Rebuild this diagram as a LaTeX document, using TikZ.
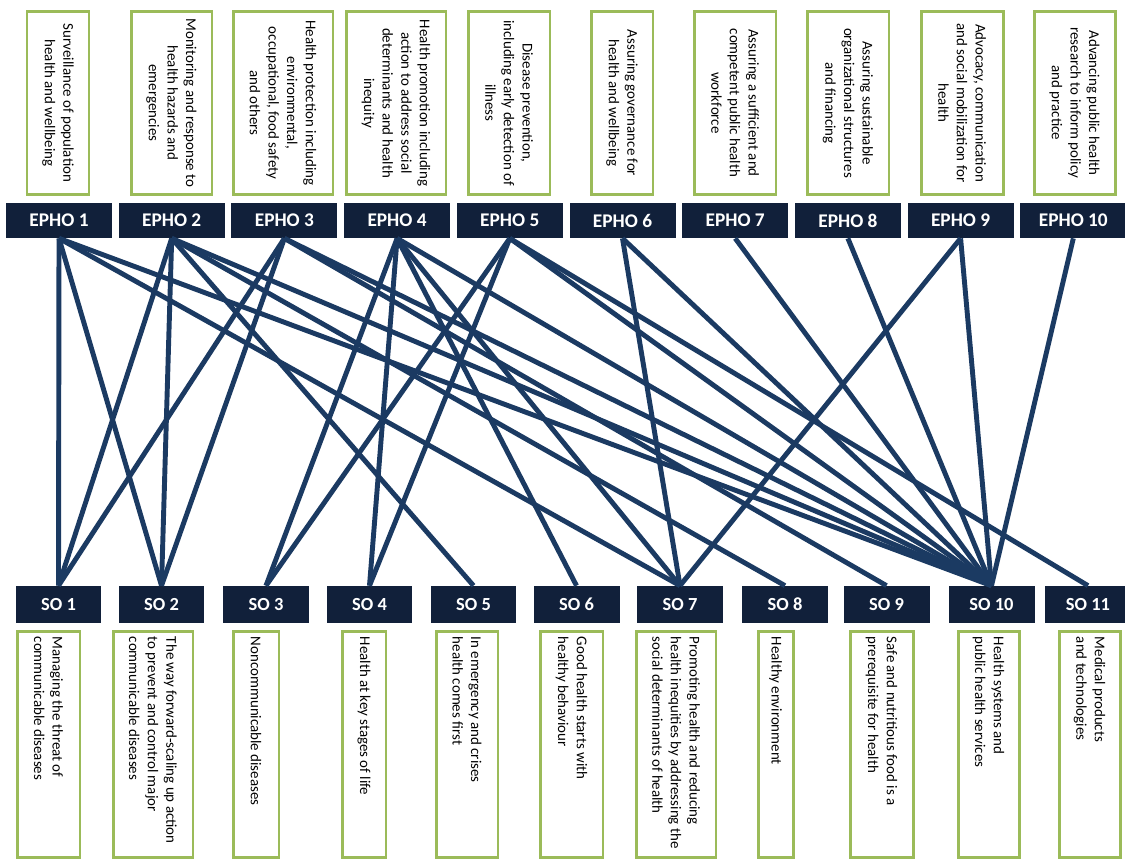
\documentclass[tikz,border=0pt]{standalone}
\usepackage{fontspec}
\setmainfont{Carlito}
\usetikzlibrary{positioning}
\definecolor{boxnavy}{HTML}{11203A}
\definecolor{linknavy}{HTML}{1B3A62}
\definecolor{leafgreen}{HTML}{9BBB59}
\tikzset{font=\fontsize{8.5}{10.6}\selectfont}
\tikzset{
  aimbox/.style={draw=leafgreen, line width=1.7pt, fill=white, rotate=-90, align=center, inner sep=0pt, minimum width=3.68cm},
  ephobox/.style={fill=boxnavy, text=white, minimum width=2.12cm, minimum height=0.7cm, inner sep=0pt, font=\fontsize{11}{13}\selectfont\bfseries},
  sobox/.style={fill=boxnavy, text=white, minimum width=1.72cm, minimum height=0.74cm, inner sep=0pt, font=\fontsize{10.5}{12}\selectfont\bfseries},
  goalbox/.style={draw=leafgreen, line width=1.7pt, fill=white, minimum height=4.54cm, inner sep=0pt},
  goaltext/.style={rotate=-90, anchor=west, align=left, inner sep=0pt},
  link/.style={draw=linknavy, line width=2.8pt},
}

\begin{document}
\begin{tikzpicture}[x=0.02cm, y=-0.02cm]
  \useasboundingbox (0,0) rectangle (1125,859);

  % operations (top)
  \node[aimbox, minimum height=1.24cm] (t1) at (58,103) {Surveillance of population\\health and wellbeing};
  \node[aimbox, minimum height=1.62cm] (t2) at (171.5,103) {Monitoring and response to\\health hazards and\\emergencies};
  \node[aimbox, minimum height=2.0cm] (t3) at (283,103) {Health protection including\\environmental,\\occupational, food safety\\and others};
  \node[aimbox, minimum height=2.0cm] (t4) at (396,103) {Health promotion including\\action to address social\\determinants and health\\inequity};
  \node[aimbox, minimum height=1.64cm] (t5) at (509,103) {Disease prevention,\\including early detection of\\illness};
  \node[aimbox, minimum height=1.24cm] (t6) at (622,103) {Assuring governance for\\health and wellbeing};
  \node[aimbox, minimum height=1.64cm] (t7) at (735,103) {Assuring a sufficient and\\competent public health\\workforce};
  \node[aimbox, minimum height=1.64cm] (t8) at (848,103) {Assuring sustainable\\organizational structures\\and financing};
  \node[aimbox, minimum height=1.64cm] (t9) at (962,103) {Advocacy, communication\\and social mobilization for\\health};
  \node[aimbox, minimum height=1.62cm] (t10) at (1074.5,103) {Advancing public health\\research to inform policy\\and practice};

  \foreach \i in {1,...,10}
    \node[ephobox] (e\i) at ({59+112.7*(\i-1)},220.5) {EPHO \i};

  % strategic objectives (bottom)
  \foreach \i/\cx in {1/58.5, 2/161.5, 3/266, 4/369.5, 5/473.5, 6/576.5, 7/680, 8/785, 9/886.5, 10/991.5, 11/1088}
    \node[sobox] (s\i) at (\cx,604.5) {SO \i};

  \foreach \i/\cx/\w in {1/48.5/1.26, 2/153/1.6, 3/256/0.92, 4/364/0.88, 5/467/1.24, 6/571.5/1.26, 7/676/1.6, 8/775.5/0.7, 9/881.5/1.26, 10/988.5/1.22, 11/1089.5/1.22}
    \node[goalbox, minimum width=\w cm] (b\i) at (\cx,744.5) {};

  \node[goaltext] (g1) at ([yshift=-0.14cm]b1.north) {Managing the threat of\\communicable diseases};
  \node[goaltext] (g2) at ([yshift=-0.14cm]b2.north) {The way forward-scaling up action\\to prevent and control major\\communicable diseases};
  \node[goaltext] (g3) at ([yshift=-0.14cm]b3.north) {Noncommunicable diseases};
  \node[goaltext] (g4) at ([yshift=-0.14cm]b4.north) {Health at key stages of life};
  \node[goaltext] (g5) at ([yshift=-0.14cm]b5.north) {In emergency and crises\\health comes first};
  \node[goaltext] (g6) at ([yshift=-0.14cm]b6.north) {Good health starts with\\healthy behaviour};
  \node[goaltext] (g7) at ([yshift=-0.14cm]b7.north) {Promoting health and reducing\\health inequities by addressing the\\social determinants of health};
  \node[goaltext] (g8) at ([yshift=-0.14cm]b8.north) {Healthy environment};
  \node[goaltext] (g9) at ([yshift=-0.14cm]b9.north) {Safe and nutritious food is a\\prerequisite for health};
  \node[goaltext] (g10) at ([yshift=-0.14cm]b10.north) {Health systems and\\public health services};
  \node[goaltext] (g11) at ([yshift=-0.14cm]b11.north) {Medical products\\and technologies};

  % links EPHO -> SO
  \foreach \a/\b in {1/1,1/2,1/7,1/10, 2/1,2/2,2/5,2/8,2/10, 3/1,3/2,3/9,3/10,
                     4/3,4/4,4/6,4/7,4/10, 5/3,5/4,5/10,5/11, 6/7,6/10,
                     7/10, 8/10, 9/7,9/10, 10/10}
    \draw[link] (e\a.south) -- (s\b.north);
\end{tikzpicture}
\end{document}
